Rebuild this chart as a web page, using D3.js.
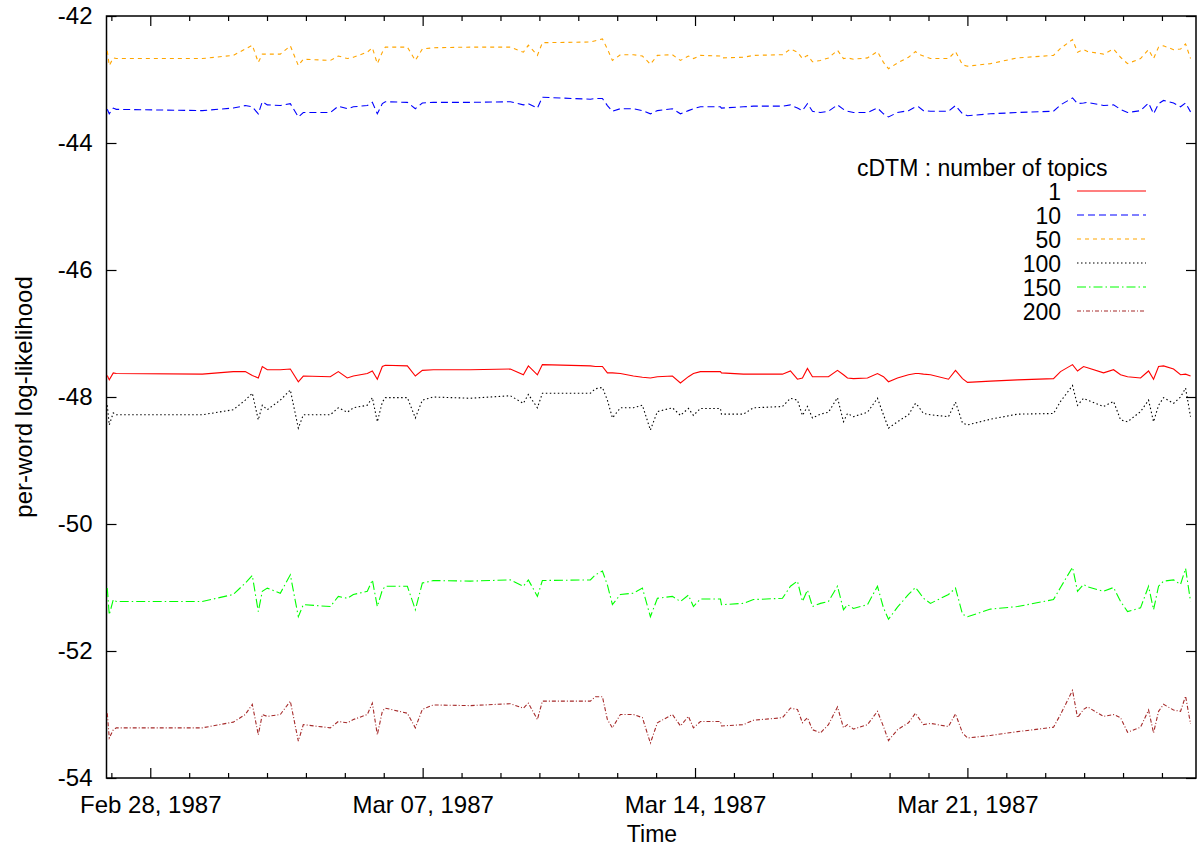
<!DOCTYPE html>
<html>
<head>
<meta charset="utf-8">
<script src="https://cdn.jsdelivr.net/npm/d3@7"></script>
<style>
  html, body { margin: 0; padding: 0; background: #fff; }
  svg { display: block; font-family: "Liberation Sans", Arial, sans-serif; }
  .axis text { font-size: 24px; fill: #000; font-family: "Liberation Sans", Arial, sans-serif; }
  .axis path { display: none; }
  .axis line { stroke: #000; stroke-width: 1.2; }
</style>
</head>
<body>
<div id="chart"></div>
<script>
// days since Feb 28, 1987 00:00 (UTC)
const dayOffsets = [
  -1.105, -1.054, -0.951, -0.874, 1.337, 2.134, 2.442, 2.622, 2.776, 2.879,
  3.008, 3.342, 3.599, 3.805, 3.933, 4.627, 4.833, 5.064, 5.219, 5.578,
  5.707, 5.835, 5.964, 6.041, 6.607, 6.812, 6.992, 7.275, 8.226, 9.254,
  9.589, 9.717, 9.949, 10.077, 11.311, 11.440, 11.620, 11.748, 11.877, 12.082,
  12.416, 12.648, 12.853, 13.033, 13.419, 13.625, 13.830, 13.959, 14.139, 14.653,
  14.679, 15.244, 15.501, 16.247, 16.452, 16.632, 16.761, 16.889, 17.018, 17.224,
  17.429, 17.661, 17.815, 17.918, 18.072, 18.432, 18.689, 18.843, 18.972, 19.203,
  19.486, 19.666, 19.743, 19.871, 20.051, 20.514, 20.694, 20.874, 21.003, 21.594,
  22.288, 23.213, 23.393, 23.702, 23.830, 23.985, 24.087, 24.499, 24.756, 24.936,
  25.116, 25.450, 25.656, 25.784, 25.913, 26.041, 26.298, 26.478, 26.607, 26.735
];

const topics1 = [
  -47.66, -47.73, -47.62, -47.63, -47.64, -47.60, -47.60, -47.66, -47.70, -47.52,
  -47.57, -47.57, -47.56, -47.76, -47.67, -47.68, -47.60, -47.70, -47.67, -47.63,
  -47.59, -47.72, -47.52, -47.50, -47.51, -47.67, -47.58, -47.57, -47.57, -47.56,
  -47.65, -47.51, -47.65, -47.49, -47.51, -47.52, -47.52, -47.62, -47.62, -47.63,
  -47.67, -47.69, -47.70, -47.68, -47.67, -47.78, -47.68, -47.63, -47.60, -47.60,
  -47.62, -47.64, -47.64, -47.64, -47.59, -47.72, -47.70, -47.55, -47.68, -47.68,
  -47.68, -47.58, -47.65, -47.70, -47.71, -47.70, -47.63, -47.68, -47.76, -47.70,
  -47.65, -47.63, -47.63, -47.64, -47.65, -47.72, -47.58, -47.71, -47.77, -47.75,
  -47.73, -47.71, -47.60, -47.49, -47.59, -47.52, -47.54, -47.62, -47.57, -47.65,
  -47.68, -47.70, -47.59, -47.72, -47.52, -47.51, -47.56, -47.65, -47.64, -47.67
];

const topics10 = [
  -43.47, -43.54, -43.45, -43.47, -43.49, -43.45, -43.41, -43.43, -43.54, -43.35,
  -43.40, -43.41, -43.38, -43.59, -43.52, -43.52, -43.42, -43.46, -43.43, -43.41,
  -43.36, -43.54, -43.38, -43.35, -43.36, -43.46, -43.37, -43.36, -43.36, -43.35,
  -43.40, -43.38, -43.45, -43.28, -43.31, -43.30, -43.30, -43.41, -43.50, -43.46,
  -43.46, -43.49, -43.54, -43.49, -43.46, -43.54, -43.49, -43.46, -43.43, -43.43,
  -43.45, -43.43, -43.42, -43.42, -43.40, -43.45, -43.49, -43.38, -43.50, -43.52,
  -43.50, -43.40, -43.47, -43.50, -43.52, -43.52, -43.45, -43.54, -43.59, -43.52,
  -43.49, -43.43, -43.43, -43.49, -43.50, -43.50, -43.41, -43.54, -43.57, -43.54,
  -43.52, -43.50, -43.40, -43.29, -43.38, -43.37, -43.36, -43.41, -43.40, -43.47,
  -43.52, -43.49, -43.37, -43.54, -43.38, -43.33, -43.37, -43.43, -43.37, -43.51
];

const topics50 = [
  -42.55, -42.78, -42.66, -42.67, -42.67, -42.62, -42.52, -42.46, -42.73, -42.60,
  -42.60, -42.60, -42.47, -42.78, -42.68, -42.70, -42.63, -42.67, -42.65, -42.57,
  -42.50, -42.75, -42.57, -42.49, -42.49, -42.70, -42.52, -42.50, -42.49, -42.49,
  -42.57, -42.46, -42.62, -42.42, -42.41, -42.39, -42.36, -42.52, -42.70, -42.61,
  -42.61, -42.63, -42.76, -42.62, -42.61, -42.70, -42.63, -42.67, -42.62, -42.63,
  -42.66, -42.65, -42.62, -42.61, -42.52, -42.57, -42.67, -42.62, -42.72, -42.70,
  -42.66, -42.54, -42.67, -42.66, -42.68, -42.66, -42.56, -42.73, -42.83, -42.74,
  -42.65, -42.56, -42.60, -42.63, -42.67, -42.67, -42.56, -42.77, -42.79, -42.75,
  -42.66, -42.62, -42.51, -42.37, -42.57, -42.53, -42.56, -42.60, -42.52, -42.65,
  -42.75, -42.67, -42.53, -42.67, -42.49, -42.47, -42.53, -42.52, -42.44, -42.67
];

const topics100 = [
  -48.13, -48.44, -48.25, -48.28, -48.28, -48.20, -48.05, -47.94, -48.36, -48.13,
  -48.20, -48.05, -47.89, -48.49, -48.28, -48.28, -48.17, -48.24, -48.17, -48.13,
  -48.01, -48.39, -48.08, -48.01, -48.01, -48.33, -48.05, -48.00, -48.02, -47.98,
  -48.10, -47.96, -48.17, -47.94, -47.94, -47.87, -47.85, -48.05, -48.33, -48.17,
  -48.17, -48.13, -48.52, -48.23, -48.17, -48.29, -48.18, -48.29, -48.18, -48.18,
  -48.27, -48.27, -48.17, -48.15, -48.02, -48.05, -48.29, -48.15, -48.33, -48.27,
  -48.24, -48.01, -48.39, -48.26, -48.31, -48.24, -48.02, -48.28, -48.49, -48.39,
  -48.28, -48.10, -48.15, -48.26, -48.28, -48.31, -48.08, -48.41, -48.44, -48.35,
  -48.27, -48.26, -48.07, -47.82, -48.13, -48.02, -48.05, -48.15, -48.07, -48.36,
  -48.39, -48.23, -48.05, -48.39, -48.13, -48.01, -48.10, -48.00, -47.86, -48.31
];

const topics150 = [
  -51.01, -51.43, -51.19, -51.22, -51.22, -51.11, -50.93, -50.81, -51.38, -51.06,
  -51.01, -51.09, -50.80, -51.46, -51.27, -51.30, -51.14, -51.17, -51.11, -51.06,
  -50.88, -51.30, -51.04, -50.98, -50.98, -51.35, -50.93, -50.89, -50.90, -50.88,
  -50.98, -50.88, -51.14, -50.89, -50.88, -50.80, -50.74, -50.96, -51.27, -51.11,
  -51.09, -51.01, -51.46, -51.17, -51.14, -51.22, -51.12, -51.30, -51.18, -51.18,
  -51.27, -51.25, -51.19, -51.17, -50.98, -50.90, -51.22, -51.04, -51.30, -51.25,
  -51.22, -50.98, -51.35, -51.27, -51.33, -51.27, -50.98, -51.32, -51.50, -51.31,
  -51.11, -51.00, -51.06, -51.17, -51.25, -51.11, -51.01, -51.42, -51.46, -51.34,
  -51.30, -51.19, -51.00, -50.68, -51.06, -50.95, -50.99, -51.06, -51.00, -51.22,
  -51.38, -51.32, -50.98, -51.35, -50.98, -50.90, -50.88, -50.95, -50.70, -51.22
];

const topics200 = [
  -52.98, -53.37, -53.24, -53.21, -53.21, -53.12, -53.00, -52.84, -53.32, -53.00,
  -53.03, -53.00, -52.79, -53.42, -53.16, -53.21, -53.11, -53.13, -53.08, -53.00,
  -52.82, -53.32, -52.95, -52.90, -52.98, -53.21, -52.92, -52.85, -52.86, -52.83,
  -52.90, -52.82, -53.08, -52.79, -52.79, -52.72, -52.72, -53.08, -53.21, -53.00,
  -53.00, -53.05, -53.45, -53.13, -53.00, -53.18, -53.03, -53.21, -53.11, -53.11,
  -53.18, -53.16, -53.09, -53.05, -52.90, -52.92, -53.13, -53.05, -53.24, -53.29,
  -53.16, -52.88, -53.21, -53.16, -53.23, -53.16, -52.95, -53.19, -53.41, -53.24,
  -53.13, -52.98, -53.05, -53.16, -53.14, -53.19, -52.99, -53.29, -53.37, -53.33,
  -53.27, -53.20, -53.00, -52.62, -53.05, -52.92, -52.88, -53.03, -53.00, -53.05,
  -53.28, -53.20, -52.93, -53.29, -52.95, -52.84, -52.93, -52.95, -52.71, -53.15
];

const seriesNames = ["1", "10", "50", "100", "150", "200"];
const seriesColors = ["#ff0000", "#0000ff", "#ffa500", "#000000", "#00ff00", "#a52a2a"];
const seriesDashes = ["none", "7,4", "4,4", "1.5,2.5", "9,3,1.5,3", "4,2,1,2"];
const yTicks = [-54, -52, -50, -48, -46, -44, -42];

const W = 1197, H = 847;
const margin = { top: 16, right: 1, left: 106.5, bottom: 69 };
const width = W - margin.left - margin.right,
  height = H - margin.top - margin.bottom;

const base = Date.UTC(1987, 1, 28);
const toDate = d => new Date(base + d * 864e5);

const x = d3.scaleUtc()
  .domain([new Date(Date.UTC(1987, 1, 26, 21)), new Date(Date.UTC(1987, 2, 26, 21))])
  .range([0, width]);
const y = d3.scaleLinear()
  .domain([-54, -42])
  .range([height, 0]);

const svg = d3.select("#chart")
  .append("svg")
  .attr("width", W)
  .attr("height", H);

svg.append("rect").attr("width", W).attr("height", H).attr("fill", "#fff");

const g = svg.append("g")
  .attr("transform", `translate(${margin.left},${margin.top})`);

g.append("clipPath").attr("id", "clip")
  .append("rect").attr("width", width).attr("height", height);

const days = d3.utcDay.range(new Date(Date.UTC(1987, 1, 27)), new Date(Date.UTC(1987, 2, 27)));
const weeks = [0, 7, 14, 21].map(toDate);
const minorDays = days.filter(d => !weeks.some(w => +w === +d));

// bottom: weekly labels + daily minor ticks
g.append("g").attr("class", "axis")
  .attr("transform", `translate(0,${height})`)
  .call(d3.axisBottom(x).tickValues(weeks).tickSize(-10).tickPadding(18)
    .tickFormat(d3.utcFormat("%b %d, %Y")));
g.append("g").attr("class", "axis")
  .attr("transform", `translate(0,${height})`)
  .call(d3.axisBottom(x).tickValues(minorDays).tickSize(-5).tickFormat(""));

// top mirror
g.append("g").attr("class", "axis")
  .call(d3.axisTop(x).tickValues(weeks).tickSize(-10).tickFormat(""));
g.append("g").attr("class", "axis")
  .call(d3.axisTop(x).tickValues(minorDays).tickSize(-5).tickFormat(""));

// y axes (plain hyphen minus like the original)
g.append("g").attr("class", "axis")
  .call(d3.axisLeft(y).tickValues(yTicks).tickSize(-10).tickPadding(14)
    .tickFormat(d => String(d)));
g.append("g").attr("class", "axis")
  .attr("transform", `translate(${width},0)`)
  .call(d3.axisRight(y).tickValues(yTicks).tickSize(-10).tickFormat(""));

g.append("rect")
  .attr("width", width)
  .attr("height", height)
  .attr("fill", "none")
  .attr("stroke", "#000")
  .attr("stroke-width", 1.5);

// lines
const series = [topics1, topics10, topics50, topics100, topics150, topics200]
  .map((values, k) => ({
    name: seriesNames[k],
    color: seriesColors[k],
    dash: seriesDashes[k],
    values
  }));

const line = d3.line()
  .x((d, i) => x(toDate(dayOffsets[i])))
  .y(d => y(d));

g.append("g").attr("clip-path", "url(#clip)")
  .selectAll("path")
  .data(series)
  .join("path")
  .attr("d", s => line(s.values))
  .attr("fill", "none")
  .attr("stroke", s => s.color)
  .attr("stroke-width", 1.1)
  .attr("stroke-dasharray", s => s.dash);

// axis titles
svg.append("text")
  .attr("transform", "translate(32,397) rotate(-90)")
  .attr("text-anchor", "middle")
  .style("font-size", "24px")
  .text("per-word log-likelihood");

svg.append("text")
  .attr("x", 652)
  .attr("y", 842)
  .attr("text-anchor", "middle")
  .style("font-size", "23px")
  .text("Time");

// legend
const legend = svg.append("g");
legend.append("text")
  .attr("x", 857)
  .attr("y", 176)
  .style("font-size", "23px")
  .text("cDTM : number of topics");

const rows = legend.selectAll("g.row")
  .data(series)
  .join("g")
  .attr("class", "row")
  .attr("transform", (s, i) => `translate(0,${199.5 + i * 24})`);

rows.append("text")
  .attr("x", 1061)
  .attr("text-anchor", "end")
  .style("font-size", "23px")
  .text(s => s.name);

rows.append("line")
  .attr("x1", 1077)
  .attr("x2", 1146)
  .attr("y1", -8.5)
  .attr("y2", -8.5)
  .attr("stroke", s => s.color)
  .attr("stroke-width", 1.2)
  .attr("stroke-dasharray", s => s.dash);
</script>
</body>
</html>
